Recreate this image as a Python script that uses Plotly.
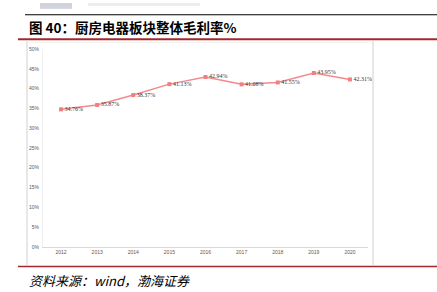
import plotly.graph_objects as go

years = ["2012", "2013", "2014", "2015", "2016", "2017", "2018", "2019", "2020"]
margin_pct = [34.76, 35.87, 38.37, 41.13, 42.94, 41.08, 41.55, 43.95, 42.31]
y_ticks = [0, 5, 10, 15, 20, 25, 30, 35, 40, 45, 50]
y_tick_labels = [f"{v}%" for v in y_ticks]
title_text = "图 40：厨房电器板块整体毛利率%"
source_text = "资料来源：wind，渤海证券"

W, H = 437, 292
def px(x): return x / W
def py(y): return 1 - y / H

fig = go.Figure()
fig.add_trace(go.Scatter(
    x=years, y=margin_pct, mode="lines+markers+text",
    line=dict(color="#F4898D", width=1.5),
    marker=dict(symbol="square", size=4, color="#F27D82"),
    text=[f"{v:.2f}%" for v in margin_pct],
    textposition="middle right",
    textfont=dict(family="Liberation Serif", size=6, color="#333333"),
    cliponaxis=False, showlegend=False,
))

fig.update_layout(
    width=W, height=H, margin=dict(l=0, r=0, t=0, b=0),
    paper_bgcolor="white", plot_bgcolor="white",
    xaxis=dict(domain=[px(43), px(368)], range=[-0.5, 8.5], type="category",
               showgrid=False, showline=True, linecolor="#D9D9D9", linewidth=1,
               ticks="", tickfont=dict(family="Liberation Sans Narrow, Liberation Sans", size=5, color="#595959"),
               fixedrange=True),
    yaxis=dict(domain=[py(249), py(47)], range=[0, 50], tickvals=y_ticks, ticktext=y_tick_labels,
               showgrid=False, showline=True, linecolor="#EEEEEE", linewidth=1, zeroline=False,
               ticks="", ticklabelstandoff=2,
               tickfont=dict(family="Liberation Sans Narrow, Liberation Sans", size=5, color="#595959"),
               fixedrange=True),
)

shapes = []
# logo blur
shapes.append(dict(type="rect", xref="paper", yref="paper", x0=px(40), x1=px(72), y0=py(6), y1=py(0),
                   fillcolor="#A9AFC2", line=dict(width=0), opacity=0.55))
shapes.append(dict(type="rect", xref="paper", yref="paper", x0=px(88), x1=px(200), y0=py(3), y1=py(0),
                   fillcolor="#EDEDED", line=dict(width=0)))
# top black line
shapes.append(dict(type="line", xref="paper", yref="paper", x0=px(25), x1=1, y0=py(12), y1=py(12),
                   line=dict(color="#000000", width=1)))
# red lines
shapes.append(dict(type="line", xref="paper", yref="paper", x0=px(18), x1=1, y0=py(37), y1=py(37),
                   line=dict(color="#A3282C", width=2)))
shapes.append(dict(type="line", xref="paper", yref="paper", x0=px(18), x1=1, y0=py(269), y1=py(269),
                   line=dict(color="#A3282C", width=1.5)))
# frame gray lines
shapes.append(dict(type="line", xref="paper", yref="paper", x0=px(27), x1=px(27), y0=py(38), y1=py(268),
                   line=dict(color="#D0D0D0", width=1)))
shapes.append(dict(type="line", xref="paper", yref="paper", x0=px(373), x1=px(373), y0=py(38), y1=py(268),
                   line=dict(color="#D0D0D0", width=1)))
shapes.append(dict(type="line", xref="paper", yref="paper", x0=px(27), x1=px(373), y0=py(40), y1=py(40),
                   line=dict(color="#F0F0F0", width=1)))
fig.update_layout(shapes=shapes)

fig.add_annotation(xref="paper", yref="paper", x=px(27), y=py(25), xanchor="left", yanchor="middle",
                   text=f"<b>{title_text}</b>", showarrow=False,
                   font=dict(family="Noto Sans CJK SC", size=13.5, color="#000000"))
fig.add_annotation(xref="paper", yref="paper", x=px(27), y=py(283), xanchor="left", yanchor="middle",
                   text=f"<i>{source_text}</i>", showarrow=False,
                   font=dict(family="Noto Sans CJK SC", size=13, color="#000000"))

fig.write_html("out.html")
